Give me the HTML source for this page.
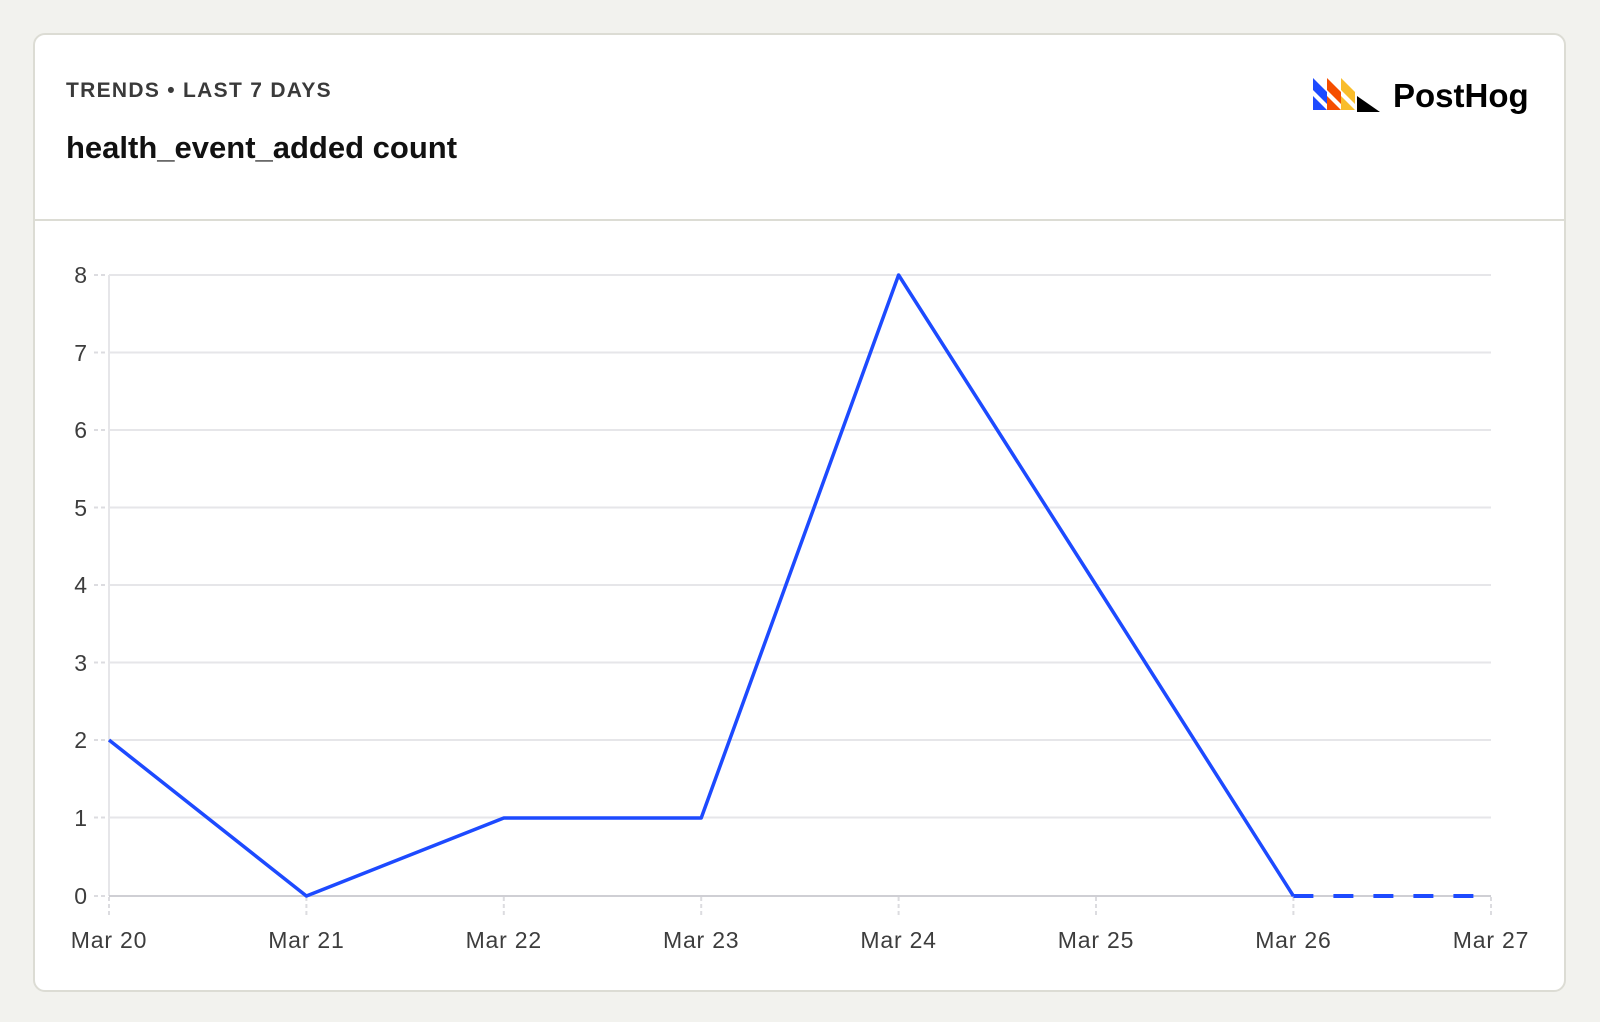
<!DOCTYPE html>
<html><head><meta charset="utf-8"><style>
body{margin:0;background:#f2f2ee;width:1600px;height:1022px;overflow:hidden;font-family:"Liberation Sans",sans-serif}
.card{position:absolute;left:33px;top:33px;width:1533px;height:959px;background:#fff;border:2px solid #dcdcd4;border-radius:12px;box-sizing:border-box}
.sep{position:absolute;left:33px;top:219px;width:1533px;height:2px;background:#dcdcd4}
.sub{position:absolute;left:66px;top:79px;font-size:21px;font-weight:bold;color:#3a3a3a;letter-spacing:1.3px}
.title{position:absolute;left:66px;top:130px;font-size:31px;font-weight:bold;color:#111}
.logo{position:absolute;left:1393px;top:77px;font-size:33px;font-weight:bold;color:#000}
</style></head><body>
<div class="card"></div><div class="sep"></div>
<div class="sub">TRENDS • LAST 7 DAYS</div>
<div class="title">health_event_added count</div>
<svg style="position:absolute;left:0;top:0" width="1600" height="1022">
<g>
<polygon points="1313,78 1327,92 1327,104 1313,90" fill="#1d4aff"/><polygon points="1313,96 1327,110 1313,110" fill="#1d4aff"/>
<polygon points="1327,78 1341,92 1341,104 1327,90" fill="#f54e00"/><polygon points="1327,96 1341,110 1327,110" fill="#f54e00"/>
<polygon points="1341,78 1355,92 1355,104 1341,90" fill="#f9bd2b"/><polygon points="1341,96 1355,110 1341,110" fill="#f9bd2b"/>
<polygon points="1357,96 1357,112 1380,112" fill="#000"/>
</g>
<g stroke="#e6e6e9" stroke-width="2">
<line x1="109" y1="275" x2="1491" y2="275"/><line x1="109" y1="352.5" x2="1491" y2="352.5"/><line x1="109" y1="430" x2="1491" y2="430"/><line x1="109" y1="507.5" x2="1491" y2="507.5"/><line x1="109" y1="585" x2="1491" y2="585"/><line x1="109" y1="662.5" x2="1491" y2="662.5"/><line x1="109" y1="740" x2="1491" y2="740"/><line x1="109" y1="817.5" x2="1491" y2="817.5"/>
<line x1="109" y1="275" x2="109" y2="896"/>
</g>
<line x1="109" y1="896" x2="1491" y2="896" stroke="#cfcfd4" stroke-width="2"/>
<g stroke="#dcdce0" stroke-width="2" stroke-dasharray="4,3">
<line x1="94" y1="275" x2="108" y2="275"/><line x1="94" y1="352.5" x2="108" y2="352.5"/><line x1="94" y1="430" x2="108" y2="430"/><line x1="94" y1="507.5" x2="108" y2="507.5"/><line x1="94" y1="585" x2="108" y2="585"/><line x1="94" y1="662.5" x2="108" y2="662.5"/><line x1="94" y1="740" x2="108" y2="740"/><line x1="94" y1="817.5" x2="108" y2="817.5"/><line x1="94" y1="896" x2="108" y2="896"/>
<line x1="109" y1="897" x2="109" y2="916"/><line x1="306.4" y1="897" x2="306.4" y2="916"/><line x1="503.8" y1="897" x2="503.8" y2="916"/><line x1="701.2" y1="897" x2="701.2" y2="916"/><line x1="898.6" y1="897" x2="898.6" y2="916"/><line x1="1096" y1="897" x2="1096" y2="916"/><line x1="1293.4" y1="897" x2="1293.4" y2="916"/><line x1="1491" y1="897" x2="1491" y2="916"/>
</g>
<g font-family="Liberation Sans" font-size="23" fill="#3d3d3d" text-anchor="end">
<text x="87" y="283">8</text><text x="87" y="361">7</text><text x="87" y="438">6</text><text x="87" y="516">5</text><text x="87" y="593">4</text><text x="87" y="671">3</text><text x="87" y="748">2</text><text x="87" y="826">1</text><text x="87" y="904">0</text>
</g>
<g font-family="Liberation Sans" font-size="23" fill="#3d3d3d" text-anchor="middle" letter-spacing="0.8">
<text x="109" y="948">Mar 20</text><text x="306.4" y="948">Mar 21</text><text x="503.8" y="948">Mar 22</text><text x="701.2" y="948">Mar 23</text><text x="898.6" y="948">Mar 24</text><text x="1096" y="948">Mar 25</text><text x="1293.4" y="948">Mar 26</text><text x="1491" y="948">Mar 27</text>
</g>
<polyline points="109,740 306.4,896 503.8,818 701.2,818 898.6,275 1096,585 1293.4,896" fill="none" stroke="#1d4aff" stroke-width="3.5" stroke-linejoin="round"/>
<line x1="1293.4" y1="896" x2="1475" y2="896" stroke="#1d4aff" stroke-width="4" stroke-dasharray="20,20"/>
</svg>
<div class="logo">PostHog</div>
</body></html>
